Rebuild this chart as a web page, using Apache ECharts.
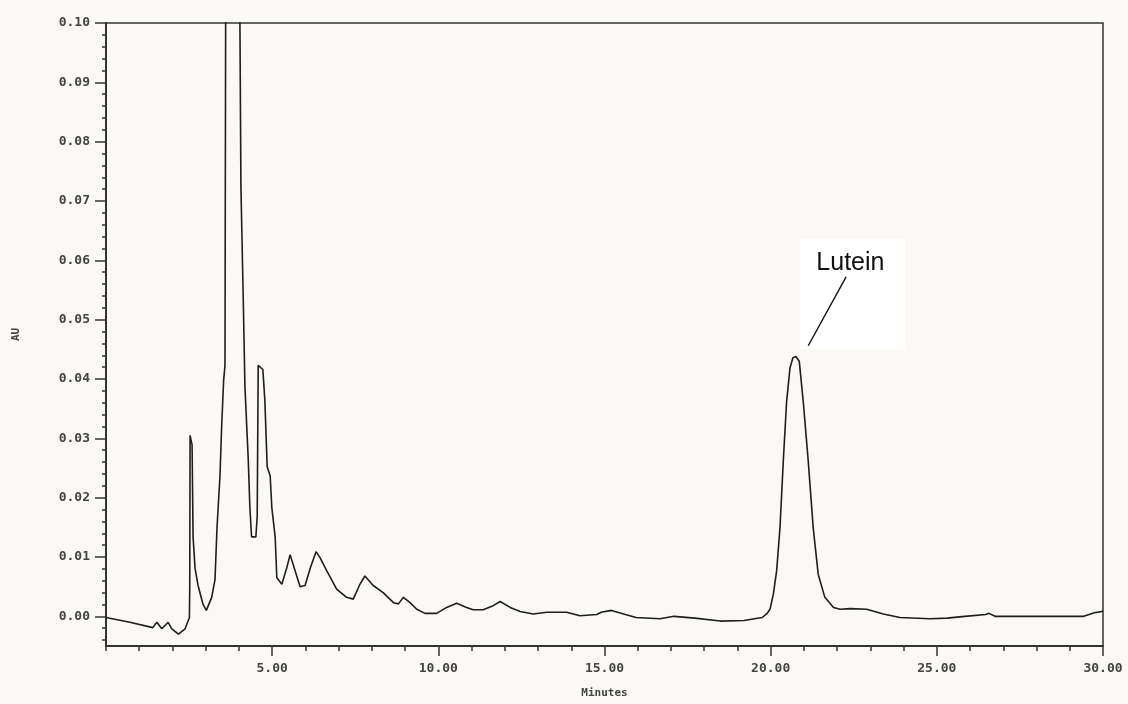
<!DOCTYPE html>
<html><head><meta charset="utf-8">
<script src="https://cdn.jsdelivr.net/npm/echarts@6/dist/echarts.min.js"></script>
<style>html,body{margin:0;padding:0;background:#faf9f5}#c{width:1128px;height:704px}</style>
</head><body><div id="c"></div>
<script>
// Retention time (minutes)
const minutes = [0.00,0.72,1.41,1.53,1.68,1.87,1.98,2.18,2.38,2.51,2.52,2.53,2.59,2.62,2.68,2.77,2.92,3.02,3.18,3.28,3.34,3.43,3.48,3.54,3.58,3.60,3.67,3.85,3.97,4.03,4.06,4.13,4.18,4.28,4.33,4.38,4.51,4.55,4.58,4.63,4.72,4.78,4.85,4.94,4.99,5.09,5.14,5.29,5.44,5.54,5.69,5.84,5.99,6.15,6.32,6.44,6.64,6.94,7.24,7.44,7.64,7.79,8.04,8.34,8.65,8.80,8.95,9.15,9.35,9.60,9.95,10.25,10.55,10.85,11.05,11.35,11.65,11.86,12.16,12.46,12.86,13.26,13.86,14.26,14.77,14.90,15.21,15.63,15.95,16.67,17.09,17.72,18.48,19.20,19.74,19.88,19.98,20.08,20.18,20.28,20.38,20.48,20.58,20.67,20.76,20.86,20.98,21.13,21.28,21.43,21.63,21.89,22.09,22.39,22.89,23.39,23.89,24.79,25.31,25.84,26.47,26.57,26.75,27.52,29.42,29.74,29.95,30.00];
// Absorbance (AU)
const absorbance = [-0.0002,-0.0010,-0.0019,-0.0010,-0.0021,-0.0010,-0.0021,-0.0030,-0.0021,-0.0002,0.0050,0.0305,0.0289,0.0134,0.0081,0.0052,0.0020,0.0010,0.0032,0.0062,0.0149,0.0237,0.0320,0.0398,0.0423,0.0998,0.1200,0.1600,0.1200,0.0998,0.0723,0.0535,0.0388,0.0265,0.0183,0.0134,0.0134,0.0169,0.0423,0.0426,0.0416,0.0364,0.0252,0.0237,0.0183,0.0134,0.0065,0.0054,0.0082,0.0104,0.0077,0.0050,0.0052,0.0082,0.0109,0.0099,0.0077,0.0046,0.0032,0.0029,0.0054,0.0068,0.0052,0.0040,0.0023,0.0021,0.0032,0.0023,0.0012,0.0005,0.0005,0.0015,0.0022,0.0015,0.0011,0.0011,0.0018,0.0025,0.0015,0.0008,0.0004,0.0007,0.0007,0.0001,0.0003,0.0007,0.0010,0.0003,-0.0002,-0.0004,0.0000,-0.0003,-0.0008,-0.0007,-0.0002,0.0004,0.0012,0.0037,0.0077,0.0149,0.0262,0.0362,0.0418,0.0436,0.0438,0.0430,0.0362,0.0262,0.0149,0.0071,0.0032,0.0015,0.0012,0.0013,0.0012,0.0004,-0.0002,-0.0004,-0.0003,0.0000,0.0003,0.0005,0.0000,0.0000,0.0000,0.0006,0.0008,0.0009];

const yTickLabels = [0.00,0.01,0.02,0.03,0.04,0.05,0.06,0.07,0.08,0.09,0.10];
const xTickLabels = [5,10,15,20,25,30];
const yRange = [-0.005, 0.10];
const xRange = [0, 30];

const peakName = 'Lutein';
const peakLabelAt = [22.40, 0.0596];
const leaderFrom = [22.27, 0.0572];
const leaderTo = [21.13, 0.0456];
const labelBoxFrom = [20.88, 0.0451];
const labelBoxTo = [24.04, 0.0636];

const yMinorTicks = [];
for (let k = -4; k <= 98; k += 2) { if (k % 10 !== 0) yMinorTicks.push(k / 1000); }

const tickFont = { fontFamily: 'DejaVu Sans Mono', fontWeight: 'bold', fontSize: 13, color: '#444' };
const axisCol = '#333';

const chart = echarts.init(document.getElementById('c'));
chart.setOption({
  backgroundColor: '#faf9f5',
  animation: false,
  grid: { left: 106, right: 25, top: 23, bottom: 55, show: true, borderColor: axisCol, borderWidth: 1.5, backgroundColor: 'transparent' },
  xAxis: [{
    type: 'value', min: xRange[0], max: xRange[1], interval: 1,
    name: 'Minutes', nameLocation: 'middle', nameGap: 42,
    nameTextStyle: Object.assign({}, tickFont, { fontSize: 11 }),
    axisLine: { show: true, onZero: false, lineStyle: { color: axisCol, width: 2 } },
    axisTick: { show: true, length: 5, lineStyle: { color: axisCol, width: 1.5 } },
    axisLabel: Object.assign({ show: true, customValues: xTickLabels, margin: 16, formatter: v => v.toFixed(2) }, tickFont),
    splitLine: { show: false }
  }, {
    type: 'value', min: xRange[0], max: xRange[1], position: 'bottom',
    axisLine: { show: false, onZero: false },
    axisTick: { show: true, customValues: xTickLabels, length: 10, lineStyle: { color: axisCol, width: 1.5 } },
    axisLabel: { show: false }, splitLine: { show: false }
  }],
  yAxis: [{
    type: 'value', min: yRange[0], max: yRange[1],
    name: 'AU', nameLocation: 'middle', nameGap: 84, nameRotate: 90,
    nameTextStyle: Object.assign({}, tickFont, { fontSize: 11 }),
    axisLine: { show: true, onZero: false, lineStyle: { color: axisCol, width: 2 } },
    axisTick: { show: true, customValues: yMinorTicks, length: 4, lineStyle: { color: axisCol, width: 1.5 } },
    axisLabel: Object.assign({ show: true, customValues: yTickLabels, margin: 16, formatter: v => v.toFixed(2) }, tickFont),
    splitLine: { show: false }
  }, {
    type: 'value', min: yRange[0], max: yRange[1], position: 'left',
    axisLine: { show: false, onZero: false },
    axisTick: { show: true, customValues: yTickLabels, length: 11, lineStyle: { color: axisCol, width: 1.5 } },
    axisLabel: { show: false }, splitLine: { show: false }
  }],
  series: [{
    type: 'line', xAxisIndex: 0, yAxisIndex: 0,
    data: minutes.map((t, i) => [t, absorbance[i]]),
    showSymbol: false, symbol: 'none', clip: true,
    lineStyle: { color: '#1e1e1e', width: 1.6 },
    markArea: {
      silent: true,
      itemStyle: { color: '#ffffff' },
      data: [[{ coord: labelBoxFrom }, { coord: labelBoxTo }]]
    },
    markLine: {
      silent: true, symbol: ['none', 'none'], label: { show: false },
      lineStyle: { color: '#111', width: 1.4, type: 'solid' },
      data: [[{ coord: leaderFrom }, { coord: leaderTo }]]
    },
    markPoint: {
      silent: true,
      data: [{ coord: peakLabelAt, symbol: 'rect', symbolSize: 1, itemStyle: { color: 'rgba(0,0,0,0)' },
        label: { show: true, position: 'inside', formatter: peakName, color: '#111', fontSize: 25, fontFamily: 'Liberation Sans' } }]
    }
  }]
});
</script></body></html>
